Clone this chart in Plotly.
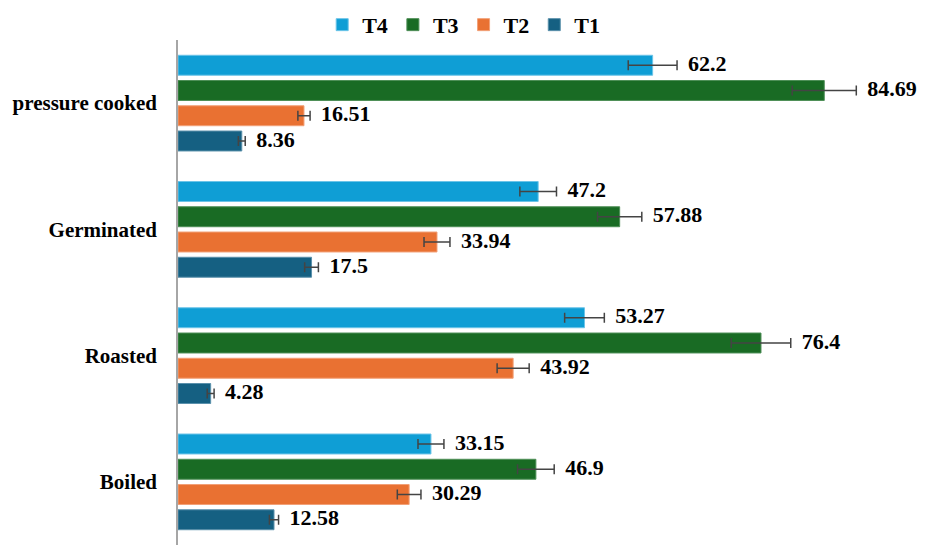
import plotly.graph_objects as go

# Data (bottom to top on the chart).
categories = ['Boiled', 'Roasted', 'Germinated', 'pressure cooked']
series_names = ['T4', 'T3', 'T2', 'T1']
t4 = [33.15, 53.27, 47.2, 62.2]
t3 = [46.9, 76.4, 57.88, 84.69]
t2 = [30.29, 43.92, 33.94, 16.51]
t1 = [12.58, 4.28, 17.5, 8.36]
t4_err = [1.7, 2.6, 2.4, 3.2]
t3_err = [2.4, 3.9, 2.9, 4.2]
t2_err = [1.55, 2.1, 1.7, 0.8]
t1_err = [0.6, 0.45, 0.9, 0.45]

values = [t4, t3, t2, t1]
errors = [t4_err, t3_err, t2_err, t1_err]
colors = ['#0F9ED5', '#196B24', '#E97132', '#156082']
edges = ['#6cc4e8', '#4e8f57', '#f2a077', '#5a90ab']

font = 'Liberation Serif'
slot = 0.2

fig = go.Figure()

for k, name in enumerate(series_names):
	pos = [i + (1.5 - k) * slot for i in range(len(categories))]
	fig.add_trace(
		go.Bar(
			x=values[k],
			y=pos,
			orientation='h',
			width=0.158,
			name=name,
			marker=dict(color=colors[k], line=dict(color=edges[k], width=1)),
			error_x=dict(type='data', array=errors[k], color='#444444', thickness=1.5, width=5),
		)
	)
	# Labels placed past the error bar end.
	fig.add_trace(
		go.Scatter(
			x=[v + e for v, e in zip(values[k], errors[k])],
			y=pos,
			mode='text',
			text=['  ' + str(v) for v in values[k]],
			textposition='middle right',
			textfont=dict(family=font, size=22, color='black', weight='bold'),
			showlegend=False,
			hoverinfo='skip',
		)
	)

# The page adds an 8px body margin, so the figure is sized and offset for it.
fig.update_layout(
	width=921,
	height=543,
	plot_bgcolor='white',
	paper_bgcolor='white',
	margin=dict(l=170, r=7, t=32, b=6, autoexpand=False),
	barmode='overlay',
	showlegend=True,
	legend=dict(
		orientation='h',
		x=0.384,
		xanchor='center',
		y=1.03,
		yanchor='middle',
		font=dict(family=font, size=22, color='black', weight='bold'),
		traceorder='normal',
		itemwidth=30,
		borderwidth=0,
	),
	xaxis=dict(range=[0, 97.5], showticklabels=False, showgrid=False, zeroline=False, showline=False),
	yaxis=dict(
		range=[-0.5, 3.5],
		tickvals=list(range(len(categories))),
		ticktext=categories,
		tickfont=dict(family=font, size=21, color='black', weight='bold'),
		showgrid=False,
		zeroline=False,
		showline=True,
		linecolor='#a6a6a6',
		linewidth=1.5,
		ticks='outside',
		ticklen=15,
		tickcolor='white',
	),
)

fig.write_html('out.html')
